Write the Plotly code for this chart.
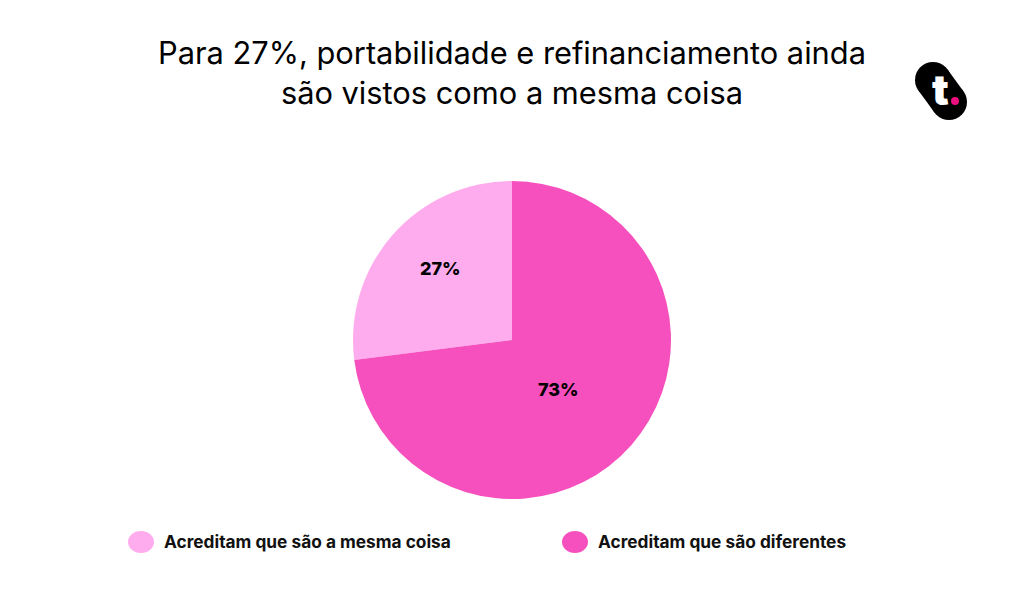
import plotly.graph_objects as go

labels = ["Acreditam que são a mesma coisa", "Acreditam que são diferentes"]
values = [27, 73]
colors = ["#FFACEE", "#F650BE"]
value_text = ["27%", "73%"]

W, H = 1024, 614
FONT = "Inter"


def px(x):
    return x / W


def py(y):
    return 1 - y / H


fig = go.Figure(go.Pie(
    labels=labels,
    values=values,
    textinfo="none",
    marker=dict(colors=colors, line=dict(width=0)),
    sort=False,
    direction="clockwise",
    rotation=-97.2,
    showlegend=False,
    hoverinfo="label+percent",
    domain=dict(x=[px(353), px(671)], y=[py(499), py(181)]),
))

value_font = dict(family=FONT, size=18, color="black", weight=800)

fig.update_layout(
    width=W, height=H,
    margin=dict(l=0, r=0, t=0, b=0),
    paper_bgcolor="white",
    font=dict(family=FONT, color="black"),
    annotations=[
        dict(text="Para 27%, portabilidade e refinanciamento ainda<br>são vistos como a mesma coisa",
             x=px(512), y=py(72), xref="paper", yref="paper", showarrow=False,
             font=dict(family=FONT, size=30.8, color="black"), align="center", yanchor="middle"),
        # slice labels, placed by hand since plotly centres them differently
        dict(text=value_text[0], x=px(440), y=py(268), xref="paper", yref="paper", showarrow=False,
             xanchor="center", yanchor="middle", font=value_font),
        dict(text=value_text[1], x=px(558), y=py(390), xref="paper", yref="paper", showarrow=False,
             xanchor="center", yanchor="middle", font=value_font),
        dict(text="<b>" + labels[0] + "</b>",
             x=px(162), y=py(541), xref="paper", yref="paper", showarrow=False,
             xanchor="left", yanchor="middle", font=dict(family=FONT, size=17.3, color="#111111")),
        dict(text="<b>" + labels[1] + "</b>",
             x=px(596), y=py(541), xref="paper", yref="paper", showarrow=False,
             xanchor="left", yanchor="middle", font=dict(family=FONT, size=17.3, color="#111111")),
        dict(text="t", x=px(940), y=py(89), xref="paper", yref="paper", showarrow=False,
             xanchor="center", yanchor="middle", font=dict(family=FONT, size=42, color="white", weight=900)),
    ],
    shapes=[
        # legend swatches
        dict(type="circle", xref="paper", yref="paper", x0=px(128), x1=px(154),
             y0=py(553), y1=py(531), fillcolor=colors[0], line_width=0),
        dict(type="circle", xref="paper", yref="paper", x0=px(562), x1=px(588),
             y0=py(553), y1=py(531), fillcolor=colors[1], line_width=0),
        # logo badge
        dict(type="circle", xref="paper", yref="paper", x0=px(915), x1=px(951),
             y0=py(98), y1=py(62), fillcolor="black", line_width=0, layer="below"),
        dict(type="circle", xref="paper", yref="paper", x0=px(931), x1=px(967),
             y0=py(120), y1=py(84), fillcolor="black", line_width=0, layer="below"),
        dict(type="line", xref="paper", yref="paper", x0=px(933), y0=py(80),
             x1=px(949), y1=py(102), line=dict(color="black", width=36), layer="below"),
        dict(type="circle", xref="paper", yref="paper", x0=px(951), x1=px(959),
             y0=py(105), y1=py(97), fillcolor="#EC0F7E", line_width=0),
    ],
)

# page has a default 8px body margin
fig.write_html("out.html", config={"displayModeBar": False},
               post_script="document.body.style.margin='0';")
